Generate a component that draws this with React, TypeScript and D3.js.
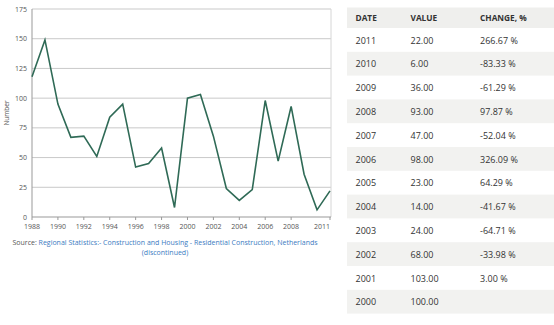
import React from "react";
import * as d3 from "d3";

const years = [1988,1989,1990,1991,1992,1993,1994,1995,1996,1997,1998,1999,2000,2001,2002,2003,2004,2005,2006,2007,2008,2009,2010,2011];
const values = [118,149,95,67,68,51,84,95,42,45,58,8,100,103,68,24,14,23,98,47,93,36,6,22];
const xTickYears = [1988,1990,1992,1994,1996,1998,2000,2002,2004,2006,2008,2011];
const yTickValues = [0,25,50,75,100,125,150,175];

const tableDates = ["2011","2010","2009","2008","2007","2006","2005","2004","2003","2002","2001","2000"];
const tableValues = ["22.00","6.00","36.00","93.00","47.00","98.00","23.00","14.00","24.00","68.00","103.00","100.00"];
const tableChanges = ["266.67 %","-83.33 %","-61.29 %","97.87 %","-52.04 %","326.09 %","64.29 %","-41.67 %","-64.71 %","-33.98 %","3.00 %",""];
const tableHeaders = ["DATE","VALUE","CHANGE, %"];

export default function App() {
  const W = 554, H = 325;
  const x = d3.scaleLinear().domain([1988, 2011]).range([32, 330]);
  const y = d3.scaleLinear().domain([0, 175]).range([217, 9]);
  const line = d3.line<number>().x((_, i) => x(years[i])).y(d => y(d));
  const font = "'Open Sans', sans-serif";
  const colX = [355.5, 410.5, 480];
  const headerTop = 7.5, headerH = 20.5, rowH = 23.8;
  return (
    <svg width={W} height={H} style={{ position: "absolute", left: 0, top: 0, background: "#fff" }}>
      {yTickValues.map(v => (
        <g key={v}>
          {v > 0 && <line x1={32} x2={331} y1={y(v)} y2={y(v)} stroke="#c9c9c9" strokeWidth={1} />}
          <text x={27} y={y(v) + 2.5} fontSize={7} fill="#555" textAnchor="end" fontFamily={font}>{v}</text>
        </g>
      ))}
      <line x1={331} x2={331} y1={y(175)} y2={y(0)} stroke="#d6d6d6" strokeWidth={1} />
      <line x1={32} x2={32} y1={y(175)} y2={y(0)} stroke="#999" strokeWidth={1} />
      <line x1={32} x2={331} y1={y(0)} y2={y(0)} stroke="#999" strokeWidth={1} />
      {xTickYears.map((t, i) => (
        <g key={t}>
          <line x1={x(t)} x2={x(t)} y1={y(0)} y2={y(0) + 3} stroke="#999" />
          <text x={x(t)} y={229} fontSize={7} fill="#555"
            textAnchor={i === xTickYears.length - 1 ? "end" : "middle"} fontFamily={font}>{t}</text>
        </g>
      ))}
      <text transform={`translate(8.5,113) rotate(-90)`} fontSize={6.5} fill="#555" textAnchor="middle" fontFamily={font}>Number</text>
      <path d={line(values) || ""} fill="none" stroke="#2f6a56" strokeWidth={1.6} strokeLinejoin="miter" />
      <text x={165} y={245} fontSize={7} textAnchor="middle" fontFamily={font}>
        <tspan fill="#555">Source: </tspan>
        <tspan fill="#3b7bbf">Regional Statistics:- Construction and Housing - Residential Construction, Netherlands</tspan>
      </text>
      <text x={165} y={255} fontSize={7} textAnchor="middle" fontFamily={font} fill="#3b7bbf">(discontinued)</text>
      <rect x={347} y={headerTop} width={W - 347} height={headerH} fill="#efefed" />
      {tableHeaders.map((h, i) => (
        <text key={h} x={colX[i]} y={headerTop + 13.5} fontSize={8.3} fontWeight="bold" fill="#333" fontFamily={font}>{h}</text>
      ))}
      {tableDates.map((d, r) => {
        const top = headerTop + headerH + r * rowH;
        return (
          <g key={d}>
            {r % 2 === 1 && <rect x={347} y={top} width={W - 347} height={rowH} fill="#f2f2f0" />}
            <text x={colX[0]} y={top + 15.5} fontSize={9} fill="#333" fontFamily={font}>{d}</text>
            <text x={colX[1]} y={top + 15.5} fontSize={9} fill="#333" fontFamily={font}>{tableValues[r]}</text>
            <text x={colX[2]} y={top + 15.5} fontSize={9} fill="#333" fontFamily={font}>{tableChanges[r]}</text>
          </g>
        );
      })}
    </svg>
  );
}
